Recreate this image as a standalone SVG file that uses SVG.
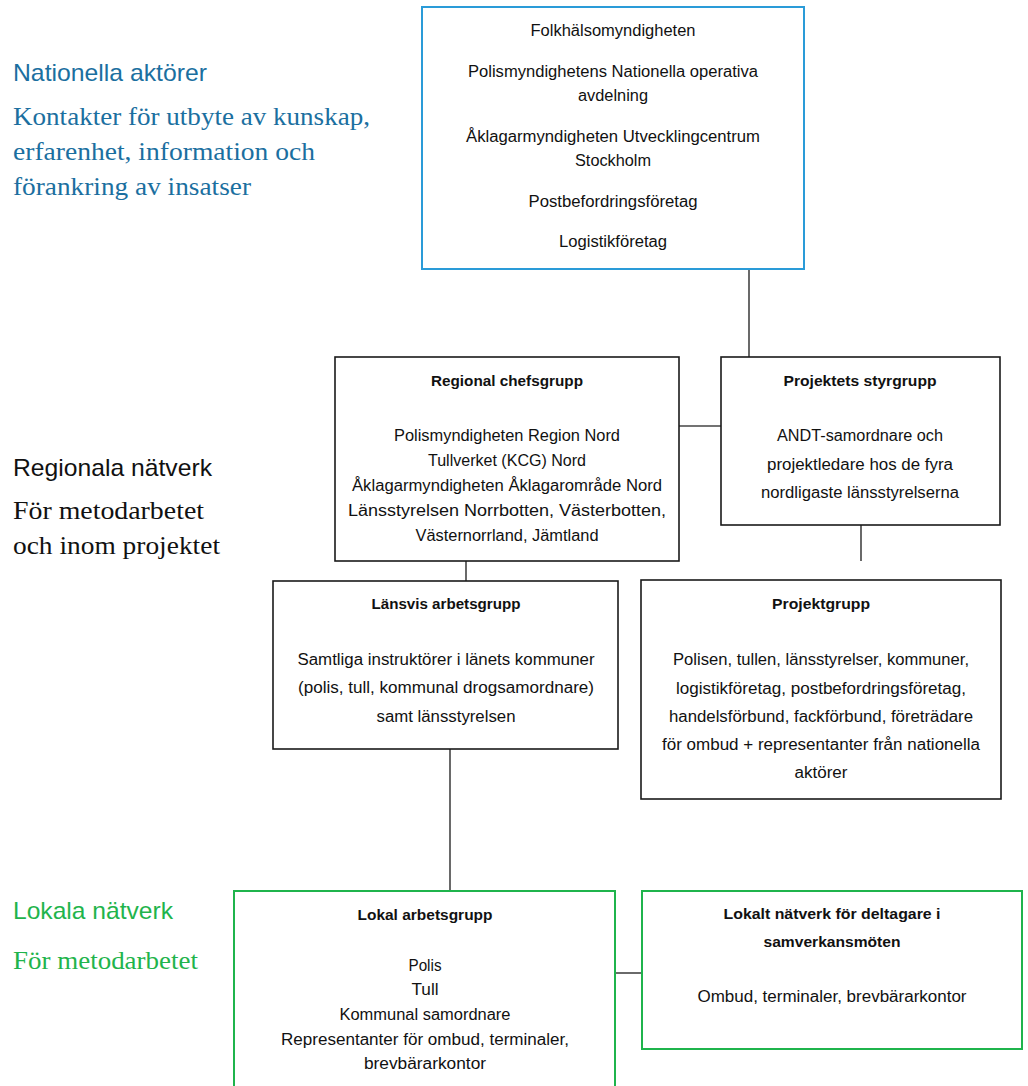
<svg xmlns="http://www.w3.org/2000/svg" width="1028" height="1086" viewBox="0 0 1028 1086">
<style>
.bg{fill:#ffffff}
.box{fill:#ffffff;stroke:#1a1a1a;stroke-width:1.6}
.bbox{fill:#ffffff;stroke:#2a9bd8;stroke-width:2}
.gbox{fill:#ffffff;stroke:#1fb44c;stroke-width:2}
.t{font-family:"Liberation Sans Narrow","Liberation Sans",Arial,sans-serif;font-size:16px;fill:#111111;text-anchor:middle}
.tb{font-family:"Liberation Sans Narrow","Liberation Sans",Arial,sans-serif;font-size:15.5px;font-weight:bold;fill:#111111;text-anchor:middle}
.lab{font-family:"Liberation Sans",Arial,sans-serif;font-size:24px}
.ser{font-family:"Liberation Serif","DejaVu Serif",serif;font-size:26px}
.blue{fill:#1b6fa0}
.green{fill:#1fb44c}
.black{fill:#111111}
.conn{stroke:#444444;stroke-width:1.6;fill:none}
</style>
<rect class="bg" x="0" y="0" width="1028" height="1086"/>

<g id="labels">
<text class="lab blue" x="13" y="81" textLength="194" lengthAdjust="spacingAndGlyphs">Nationella aktörer</text>
<text class="ser blue" x="13" y="125" textLength="357" lengthAdjust="spacingAndGlyphs">Kontakter för utbyte av kunskap,</text>
<text class="ser blue" x="13" y="160" textLength="302" lengthAdjust="spacingAndGlyphs">erfarenhet, information och</text>
<text class="ser blue" x="13" y="195" textLength="238" lengthAdjust="spacingAndGlyphs">förankring av insatser</text>
<text class="lab black" x="13" y="476" textLength="199" lengthAdjust="spacingAndGlyphs">Regionala nätverk</text>
<text class="ser black" x="13" y="519" textLength="191" lengthAdjust="spacingAndGlyphs">För metodarbetet</text>
<text class="ser black" x="13" y="554" textLength="207" lengthAdjust="spacingAndGlyphs">och inom projektet</text>
<text class="lab green" x="13" y="919" textLength="160" lengthAdjust="spacingAndGlyphs">Lokala nätverk</text>
<text class="ser green" x="13" y="969" textLength="185" lengthAdjust="spacingAndGlyphs">För metodarbetet</text>
</g>

<g id="connectors">
<line class="conn" x1="749" y1="269" x2="749" y2="375"/>
<line class="conn" x1="679" y1="426" x2="721" y2="426"/>
<line class="conn" x1="466" y1="561" x2="466" y2="581"/>
<line class="conn" x1="861" y1="525" x2="861" y2="561"/>
<line class="conn" x1="450" y1="749" x2="450" y2="891"/>
<line class="conn" x1="616" y1="973" x2="642" y2="973"/>
</g>

<g id="nationella">
<rect class="bbox" x="422" y="7" width="382" height="262"/>
<text class="t" x="613" y="36" textLength="165" lengthAdjust="spacingAndGlyphs">Folkhälsomyndigheten</text>
<text class="t" x="613" y="77" textLength="290" lengthAdjust="spacingAndGlyphs">Polismyndighetens Nationella operativa</text>
<text class="t" x="613" y="101" textLength="70" lengthAdjust="spacingAndGlyphs">avdelning</text>
<text class="t" x="613" y="142" textLength="294" lengthAdjust="spacingAndGlyphs">Åklagarmyndigheten Utvecklingcentrum</text>
<text class="t" x="613" y="166" textLength="76" lengthAdjust="spacingAndGlyphs">Stockholm</text>
<text class="t" x="613" y="207" textLength="169" lengthAdjust="spacingAndGlyphs">Postbefordringsföretag</text>
<text class="t" x="613" y="247" textLength="108" lengthAdjust="spacingAndGlyphs">Logistikföretag</text>
</g>

<g id="regional-chefsgrupp">
<rect class="box" x="335" y="357" width="344" height="204"/>
<text class="tb" x="507" y="386" textLength="152" lengthAdjust="spacingAndGlyphs">Regional chefsgrupp</text>
<text class="t" x="507" y="441" textLength="226" lengthAdjust="spacingAndGlyphs">Polismyndigheten Region Nord</text>
<text class="t" x="507" y="466" textLength="158" lengthAdjust="spacingAndGlyphs">Tullverket (KCG) Nord</text>
<text class="t" x="507" y="491" textLength="310" lengthAdjust="spacingAndGlyphs">Åklagarmyndigheten Åklagarområde Nord</text>
<text class="t" x="507" y="516" textLength="318" lengthAdjust="spacingAndGlyphs">Länsstyrelsen Norrbotten, Västerbotten,</text>
<text class="t" x="507" y="541" textLength="183" lengthAdjust="spacingAndGlyphs">Västernorrland, Jämtland</text>
</g>

<g id="styrgrupp">
<rect class="box" x="721" y="357" width="279" height="168"/>
<text class="tb" x="860" y="386" textLength="153" lengthAdjust="spacingAndGlyphs">Projektets styrgrupp</text>
<text class="t" x="860" y="441" textLength="166" lengthAdjust="spacingAndGlyphs">ANDT-samordnare och</text>
<text class="t" x="860" y="470" textLength="186" lengthAdjust="spacingAndGlyphs">projektledare hos de fyra</text>
<text class="t" x="860" y="498" textLength="198" lengthAdjust="spacingAndGlyphs">nordligaste länsstyrelserna</text>
</g>

<g id="lansvis">
<rect class="box" x="273" y="581" width="345" height="168"/>
<text class="tb" x="446" y="609" textLength="149" lengthAdjust="spacingAndGlyphs">Länsvis arbetsgrupp</text>
<text class="t" x="446" y="665" textLength="297" lengthAdjust="spacingAndGlyphs">Samtliga instruktörer i länets kommuner</text>
<text class="t" x="446" y="693" textLength="296" lengthAdjust="spacingAndGlyphs">(polis, tull, kommunal drogsamordnare)</text>
<text class="t" x="446" y="722" textLength="139" lengthAdjust="spacingAndGlyphs">samt länsstyrelsen</text>
</g>

<g id="projektgrupp">
<rect class="box" x="641" y="580" width="360" height="219"/>
<text class="tb" x="821" y="609" textLength="98" lengthAdjust="spacingAndGlyphs">Projektgrupp</text>
<text class="t" x="821" y="665" textLength="296" lengthAdjust="spacingAndGlyphs">Polisen, tullen, länsstyrelser, kommuner,</text>
<text class="t" x="821" y="694" textLength="290" lengthAdjust="spacingAndGlyphs">logistikföretag, postbefordringsföretag,</text>
<text class="t" x="821" y="722" textLength="304" lengthAdjust="spacingAndGlyphs">handelsförbund, fackförbund, företrädare</text>
<text class="t" x="821" y="750" textLength="318" lengthAdjust="spacingAndGlyphs">för ombud + representanter från nationella</text>
<text class="t" x="821" y="778" textLength="53" lengthAdjust="spacingAndGlyphs">aktörer</text>
</g>

<g id="lokal-arbetsgrupp">
<rect class="gbox" x="234" y="891" width="381" height="220"/>
<text class="tb" x="425" y="920" textLength="135" lengthAdjust="spacingAndGlyphs">Lokal arbetsgrupp</text>
<text class="t" x="425" y="971" textLength="33" lengthAdjust="spacingAndGlyphs">Polis</text>
<text class="t" x="425" y="995" textLength="27" lengthAdjust="spacingAndGlyphs">Tull</text>
<text class="t" x="425" y="1020" textLength="171" lengthAdjust="spacingAndGlyphs">Kommunal samordnare</text>
<text class="t" x="425" y="1045" textLength="288" lengthAdjust="spacingAndGlyphs">Representanter för ombud, terminaler,</text>
<text class="t" x="425" y="1069" textLength="122" lengthAdjust="spacingAndGlyphs">brevbärarkontor</text>
</g>

<g id="lokalt-natverk">
<rect class="gbox" x="642" y="891" width="380" height="158"/>
<text class="tb" x="832" y="919" textLength="217" lengthAdjust="spacingAndGlyphs">Lokalt nätverk för deltagare i</text>
<text class="tb" x="832" y="947" textLength="137" lengthAdjust="spacingAndGlyphs">samverkansmöten</text>
<text class="t" x="832" y="1002" textLength="269" lengthAdjust="spacingAndGlyphs">Ombud, terminaler, brevbärarkontor</text>
</g>
</svg>
